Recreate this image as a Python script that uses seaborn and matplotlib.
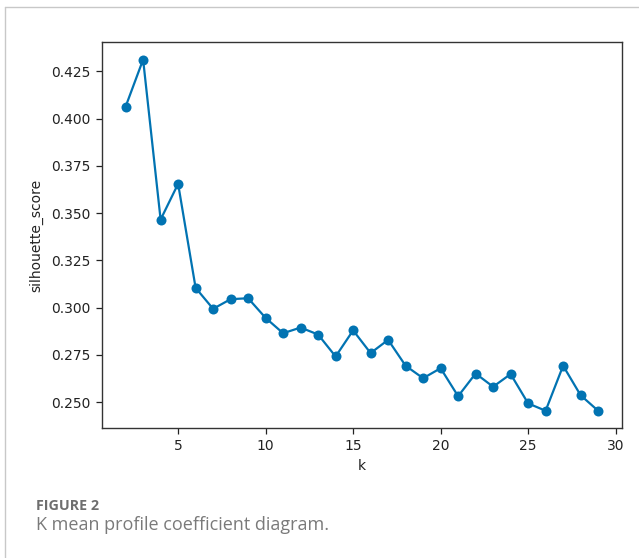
import matplotlib
matplotlib.use("Agg")
import matplotlib.pyplot as plt
from matplotlib.lines import Line2D
import seaborn as sns
import pandas as pd

# Number of clusters and the silhouette score obtained for each
k_values = list(range(2, 30))
silhouette_scores = [
    0.4063, 0.4312, 0.3466, 0.3655, 0.3105, 0.2994, 0.3045, 0.3050,
    0.2946, 0.2865, 0.2895, 0.2858, 0.2742, 0.2880, 0.2760, 0.2830,
    0.2693, 0.2627, 0.2680, 0.2532, 0.2652, 0.2582, 0.2649, 0.2494,
    0.2455, 0.2693, 0.2537, 0.2455,
]
x_label = "k"
y_label = "silhouette_score"
caption_title = "FIGURE 2"
caption_text = "K mean profile coefficient diagram."

df = pd.DataFrame({"k": k_values, "silhouette_score": silhouette_scores})

sns.set_style("ticks")
plt.rcParams["font.family"] = ["DejaVu Sans"]

line_color = "#0173B2"

fig = plt.figure(figsize=(6.39, 5.58), dpi=100)
ax = fig.add_axes([0.1596, 0.2324, 0.8134, 0.6923])

sns.lineplot(
    data=df, x="k", y="silhouette_score", ax=ax,
    color=line_color, marker="o", markersize=7.2,
    markeredgewidth=0, linewidth=1.6,
)

ax.set_xlabel(x_label, fontsize=10, color="#222222")
ax.set_ylabel(y_label, fontsize=10, color="#222222", labelpad=6)
ax.tick_params(axis="both", labelsize=10, colors="#222222", length=4.5, width=0.9)
for side in ["top", "right", "bottom", "left"]:
    ax.spines[side].set_visible(True)
    ax.spines[side].set_color("#333333")
    ax.spines[side].set_linewidth(1.0)

# Page frame lines (top and left)
fig.add_artist(Line2D([0.0074, 1.0], [0.9869, 0.9869], transform=fig.transFigure,
                      color="#c8c8c8", linewidth=1.0))
fig.add_artist(Line2D([0.0074, 0.0074], [0.0, 0.9869], transform=fig.transFigure,
                      color="#c8c8c8", linewidth=1.0))

# Caption
fig.text(0.0563, 0.086, caption_title, fontsize=10.3, fontweight="bold",
         color="#6e6e6e", family=["Open Sans", "DejaVu Sans"], va="baseline")
fig.text(0.0563, 0.0502, caption_text, fontsize=13,
         color="#7a7a7a", family=["Open Sans", "DejaVu Sans"], va="baseline")

fig.savefig("out.png", dpi=100)
